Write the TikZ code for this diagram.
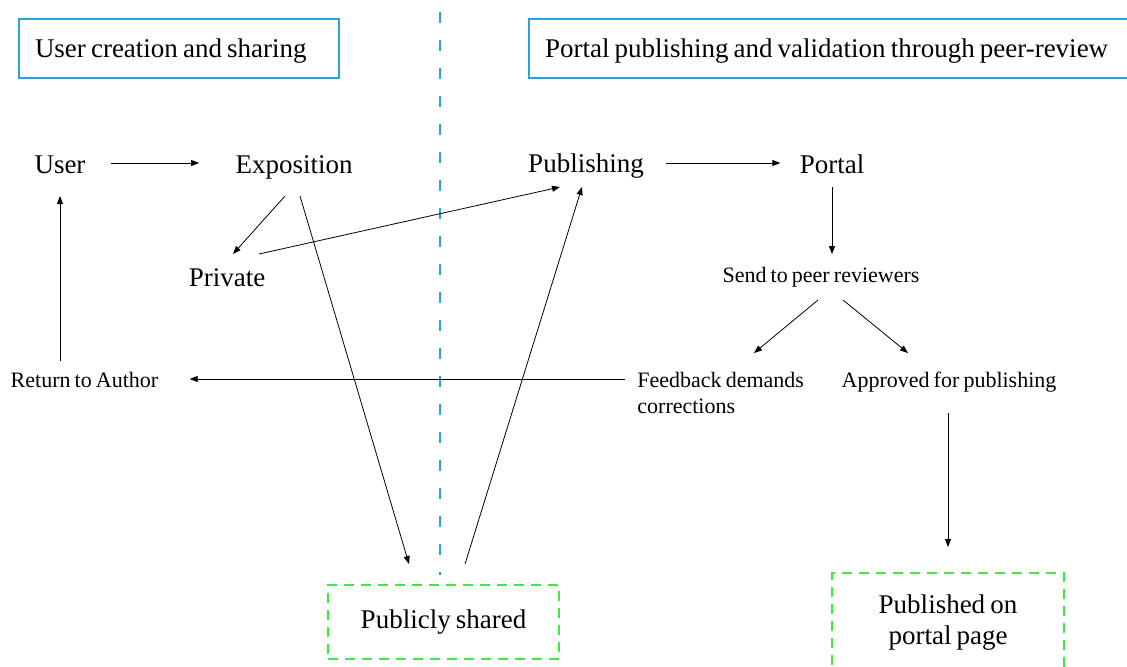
\documentclass[tikz,border=0pt]{standalone}
\usepackage{fontspec}
\setmainfont{Liberation Serif}[WordSpace=0.75]
\usetikzlibrary{
	arrows.meta,
	positioning,
}
\definecolor{sepblue}{RGB}{42,160,220}
\definecolor{boxgreen}{RGB}{60,235,60}
\tikzset{plain space/.style={execute at begin node={\spaceskip=0pt\xspaceskip=0pt\relax}}}
\tikzset{main node/.style={inner sep=0mm,anchor=base,font=\fontsize{13.5pt}{13.5pt}\selectfont,}}
\tikzset{small node/.style={inner sep=0mm,anchor=base,font=\fontsize{11pt}{13pt}\selectfont,}}
\tikzset{title box/.style={draw=sepblue,line width=1pt,anchor=north west,minimum height=29.5pt,inner xsep=8pt,text height=9.3pt,text depth=0pt,plain space,font=\fontsize{13.5pt}{13.5pt}\selectfont,}}
\tikzset{result box/.style={draw=boxgreen,line width=1pt,dash pattern=on 5pt off 3.5pt,align=center,plain space,font=\fontsize{13.5pt}{15.5pt}\selectfont,}}
\tikzset{sep line/.style={sepblue,line width=0.8pt,dash pattern=on 5.5pt off 8.5pt}}
\tikzset{
	>={Triangle[length=4pt,width=3pt]},
	thick,
}

\begin{document}
\begin{tikzpicture}[x=0.5pt,y=-0.5pt]
\useasboundingbox (0,0) rectangle (1127,666);

\node[title box,text width=144pt](hdr1) at(18,18) {User creation and sharing};
\node[title box,text width=300pt](hdr2) at(528,18) {Portal publishing and validation through peer-review};

\draw[sep line] (440,12) -- (440,575);

\node[main node](user) at(60,173) {User};
\node[main node](expo) at(294,173) {Exposition};
\node[main node](private) at(227,286) {Private};
\node[main node](publ) at(586,172) {Publishing};
\node[main node](portal) at(832,173) {Portal};

\node[small node](send) at(821,282) {Send to peer reviewers};
\node[small node,anchor=base west,text width=95pt,plain space](feedback) at(637,387) {Feedback demands\\corrections};
\node[small node](approved) at(949,387) {Approved for publishing};
\node[small node](ret) at(84.5,387) {Return to Author};

\node[result box,minimum width=115.5pt,minimum height=37pt](pshared) at(443.5,622) {Publicly shared};
\node[result box,minimum width=116pt,minimum height=50pt](published) at(948,623) {Published on\\portal page};

\draw[->] ([shift={(25,-10)}]user.base east) -- ([shift={(-36,-10)}]expo.base west);
\draw[->] ([shift={(-9,23)}]expo.base) -- ([shift={(6,-32)}]private.base);
\draw[->] ([shift={(32,-32)}]private.base) -- ([shift={(-26,15)}]publ.base);
\draw[->] ([shift={(6,23)}]expo.base) -- ([shift={(-34.5,-20)}]pshared.north);
\draw[->] ([shift={(21.5,-20)}]pshared.north) -- ([shift={(-4,15)}]publ.base);
\draw[->] ([shift={(22,-9)}]publ.base east) -- ([shift={(-19,-10)}]portal.base west);
\draw[->] ([shift={(0,14)}]portal.base) -- ([shift={(11,-28)}]send.base);
\draw[->] ([shift={(-3,18)}]send.base) -- ([shift={(117,-34)}]feedback.base west);
\draw[->] ([shift={(22,18)}]send.base) -- ([shift={(-41,-34)}]approved.base);
\draw[->] ([shift={(-12,-8)}]feedback.base west) -- ([shift={(31,-8)}]ret.base east);
\draw[->] ([shift={(-24.5,-26)}]ret.base) -- ([shift={(0,23)}]user.base);
\draw[->] ([shift={(-1,26)}]approved.base) -- ([shift={(0,-25)}]published.north);

\end{tikzpicture}
\end{document}
